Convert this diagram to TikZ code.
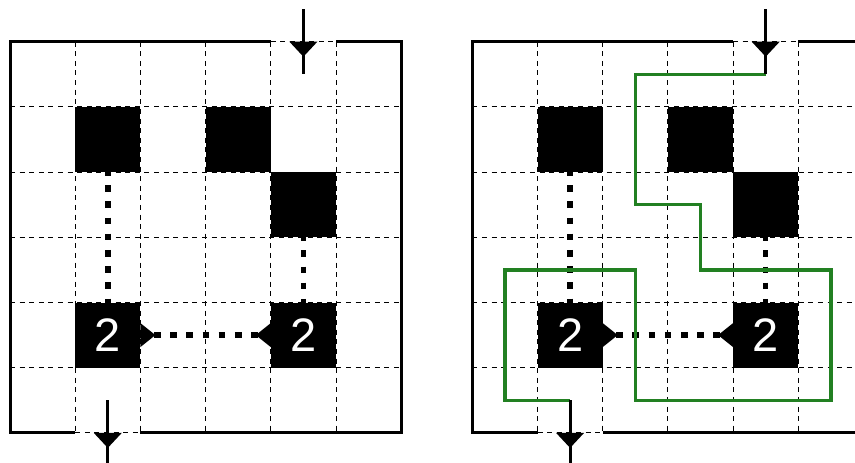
\documentclass[tikz,border=0pt]{standalone}
\usepackage{fontspec}
\setmainfont{Liberation Sans}
\definecolor{pathgreen}{RGB}{34,128,34}
\newcommand\puzzlepanel[1]{%
  \foreach \i in {1,...,5} {
    \draw[gridline] (\i,0) -- (\i,6);
    \draw[gridline] (0,\i) -- (6,\i);
  }
  \draw[gridline] (4,0) -- (5,0);
  \draw[gridline] (1,6) -- (2,6);
  \node[blk] (#1a) at (1.5,1.5) {};
  \node[blk] (#1b) at (3.5,1.5) {};
  \node[blk] (#1c) at (4.5,2.5) {};
  \node[numcell] (#1p) at (1.5,4.5) {2};
  \node[numcell] (#1q) at (4.5,4.5) {2};
  \fill (#1p.east) ++(0pt,12pt) -- ++(15pt,-12pt) -- ++(-15pt,-12pt) -- cycle;
  \fill (#1q.west) ++(0pt,12pt) -- ++(-15pt,-12pt) -- ++(15pt,-12pt) -- cycle;
  \draw[dots, dash phase=3.2pt] (#1a.south) -- (#1p.north);
  \draw[dots, dash phase=3.2pt] (#1c.south) -- (#1q.north);
  \draw[dots, dash phase=2.7pt] (#1p.east) -- (#1q.west);
  \draw[border] (4,0) -- (0,0) -- (0,6) -- (1,6);
  \draw[border] (2,6) -- (6,6) -- (6,0) -- (5,0);
  \coordinate (#1in) at (4.5,0);
  \coordinate (#1inS) at (4.5,-0.5);
  \coordinate (#1inE) at (4.5,0.5);
  \coordinate (#1out) at (1.5,6);
  \coordinate (#1outS) at (1.5,5.5);
  \coordinate (#1outE) at (1.5,6.55);
}
\begin{document}
\begin{tikzpicture}[x=65.2pt,y=-65.2pt,
  gridline/.style={line width=0.9pt, dash pattern=on 5pt off 4.6pt},
  border/.style={line width=3pt},
  blk/.style={fill=black, minimum size=65.2pt, inner sep=0pt, outer sep=0pt},
  numcell/.style={blk, text=white, font=\fontsize{47}{47}\selectfont},
  dots/.style={line width=5.5pt, dash pattern=on 6.6pt off 9.6pt},
  arrowline/.style={line width=3pt},
  loop/.style={pathgreen, line width=3.2pt, line join=miter}]
\clip (-10pt,41.7pt) rectangle (845pt,-421.3pt);
\begin{scope}
  \puzzlepanel{L}
\end{scope}
\begin{scope}[xshift=462.3pt]
  \puzzlepanel{R}
  \draw[loop] (RinE) -- (2.5,0.5) -- (2.5,2.5) -- (3.5,2.5) -- (3.5,3.5) -- (5.5,3.5) -- (5.5,5.5) -- (2.5,5.5) -- (2.5,3.5) -- (0.5,3.5) -- (0.5,5.5) -- (RoutS);
\end{scope}
\foreach \p in {L,R} {
  \draw[arrowline] (\p inS) -- (\p inE);
  \fill (\p in) ++(-14pt,0pt) -- ++(28pt,0pt) -- ++(-14pt,-15pt) -- cycle;
  \draw[arrowline] (\p outS) -- (\p outE);
  \fill (\p out) ++(-14pt,0pt) -- ++(28pt,0pt) -- ++(-14pt,-15pt) -- cycle;
}
\end{tikzpicture}
\end{document}
